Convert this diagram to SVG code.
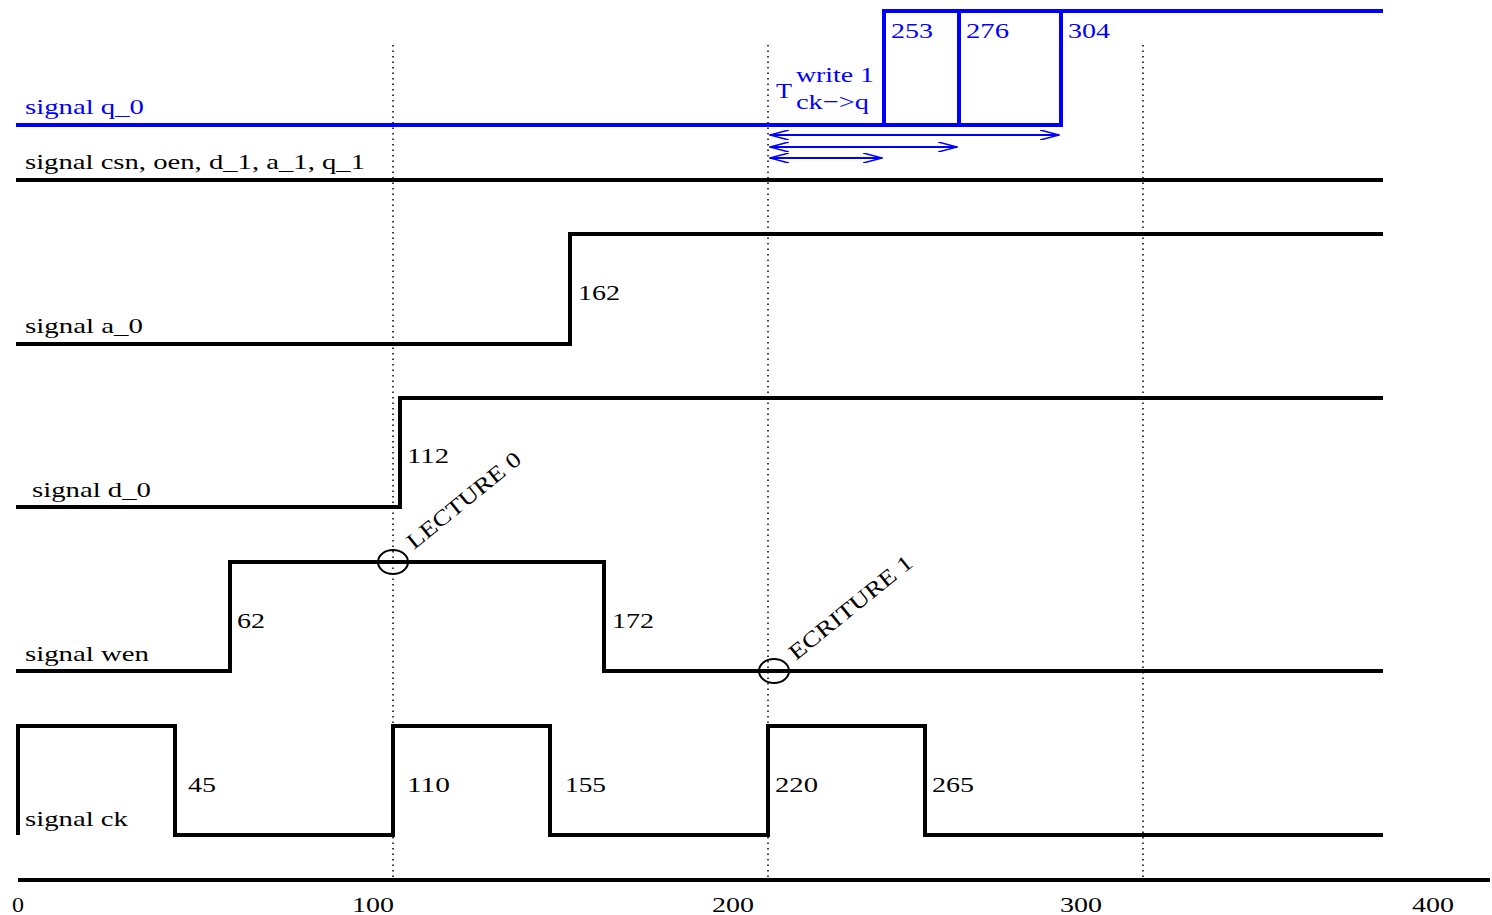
<svg xmlns="http://www.w3.org/2000/svg" width="1492" height="915" viewBox="0 0 1492 915">
<defs>
<style>
.sig{fill:none;stroke:#000;stroke-width:4;stroke-linejoin:miter;stroke-linecap:square}
.blue{stroke:#0000ff}
.dot{fill:none;stroke:#000;stroke-width:1.5;stroke-dasharray:1.5 4}
.t{font-family:"Liberation Serif","Times New Roman",serif;font-size:22px;fill:#000}
.tb{fill:#0000ff}
.arr{fill:none;stroke:#0000ff;stroke-width:1.8}
</style>
<marker id="ah" viewBox="0 0 20 10" refX="19" refY="5" markerWidth="20" markerHeight="10" markerUnits="userSpaceOnUse" orient="auto-start-reverse">
<path d="M0,0 L19,5 L0,10" fill="none" stroke="#0000ff" stroke-width="1.6"/>
</marker>
</defs>
<rect width="1492" height="915" fill="#fff"/>
<g id="grid">
<line class="dot" x1="393" y1="45" x2="393" y2="878"/>
<line class="dot" x1="768" y1="45" x2="768" y2="878"/>
<line class="dot" x1="1143" y1="45" x2="1143" y2="878"/>
</g>
<g id="axis">
<line x1="18" y1="880" x2="1490" y2="880" stroke="#000" stroke-width="4"/>
<text class="t" x="12" y="912" font-size="24" textLength="12" lengthAdjust="spacingAndGlyphs">0</text>
<text class="t" x="352" y="912" font-size="24" textLength="42" lengthAdjust="spacingAndGlyphs">100</text>
<text class="t" x="712" y="912" font-size="24" textLength="42" lengthAdjust="spacingAndGlyphs">200</text>
<text class="t" x="1060" y="912" font-size="24" textLength="42" lengthAdjust="spacingAndGlyphs">300</text>
<text class="t" x="1412" y="912" font-size="24" textLength="42" lengthAdjust="spacingAndGlyphs">400</text>
</g>
<g id="signal-q0">
<path class="sig blue" d="M18,125 H1061 V11 M884,125 V11 H1381 M959,11 V125"/>
<text class="t tb" x="25" y="114" textLength="119" lengthAdjust="spacingAndGlyphs">signal q_0</text>
<text class="t tb" x="891" y="38" textLength="42" lengthAdjust="spacingAndGlyphs">253</text>
<text class="t tb" x="966" y="38" textLength="43" lengthAdjust="spacingAndGlyphs">276</text>
<text class="t tb" x="1068" y="38" textLength="42" lengthAdjust="spacingAndGlyphs">304</text>
<text class="t tb" x="776" y="98" textLength="16" lengthAdjust="spacingAndGlyphs">T</text>
<text class="t tb" x="796" y="82" textLength="78" lengthAdjust="spacingAndGlyphs">write 1</text>
<text class="t tb" x="796" y="109" textLength="73" lengthAdjust="spacingAndGlyphs">ck−&gt;q</text>
</g>
<g id="connectors">
<line class="arr" x1="770" y1="135" x2="1059" y2="135" marker-start="url(#ah)" marker-end="url(#ah)"/>
<line class="arr" x1="770" y1="147" x2="957" y2="147" marker-start="url(#ah)" marker-end="url(#ah)"/>
<line class="arr" x1="770" y1="158" x2="882" y2="158" marker-start="url(#ah)" marker-end="url(#ah)"/>
</g>
<g id="signal-csn">
<path class="sig" d="M18,180 H1381"/>
<text class="t" x="25" y="169" textLength="340" lengthAdjust="spacingAndGlyphs">signal csn, oen, d_1, a_1, q_1</text>
</g>
<g id="signal-a0">
<path class="sig" d="M18,344 H570 V234 H1381"/>
<text class="t" x="25" y="333" textLength="118" lengthAdjust="spacingAndGlyphs">signal a_0</text>
<text class="t" x="578" y="300" textLength="42" lengthAdjust="spacingAndGlyphs">162</text>
</g>
<g id="signal-d0">
<path class="sig" d="M18,507 H400 V398 H1381"/>
<text class="t" x="32" y="497" textLength="119" lengthAdjust="spacingAndGlyphs">signal d_0</text>
<text class="t" x="407" y="463" textLength="42" lengthAdjust="spacingAndGlyphs">112</text>
</g>
<g id="signal-wen">
<path class="sig" d="M18,671 H230 V562 H604 V671 H1381"/>
<text class="t" x="25" y="661" textLength="124" lengthAdjust="spacingAndGlyphs">signal wen</text>
<text class="t" x="237" y="628" textLength="28" lengthAdjust="spacingAndGlyphs">62</text>
<text class="t" x="612" y="628" textLength="42" lengthAdjust="spacingAndGlyphs">172</text>
</g>
<g id="lecture0">
<ellipse cx="393" cy="562" rx="15" ry="12" fill="none" stroke="#000" stroke-width="2"/>
<text class="t" x="0" y="0" font-size="21" textLength="140" lengthAdjust="spacingAndGlyphs" transform="translate(414,550) rotate(-39)">LECTURE 0</text>
</g>
<g id="ecriture1">
<ellipse cx="774" cy="671" rx="15" ry="12" fill="none" stroke="#000" stroke-width="2"/>
<text class="t" x="0" y="0" font-size="21" textLength="152" lengthAdjust="spacingAndGlyphs" transform="translate(796,661) rotate(-39)">ECRITURE 1</text>
</g>
<g id="signal-ck">
<path class="sig" d="M18,833 V726 H175 V835 H393 V726 H550 V835 H768 V726 H925 V835 H1381"/>
<text class="t" x="25" y="826" textLength="103" lengthAdjust="spacingAndGlyphs">signal ck</text>
<text class="t" x="188" y="792" textLength="28" lengthAdjust="spacingAndGlyphs">45</text>
<text class="t" x="407" y="792" textLength="43" lengthAdjust="spacingAndGlyphs">110</text>
<text class="t" x="565" y="792" textLength="41" lengthAdjust="spacingAndGlyphs">155</text>
<text class="t" x="775" y="792" textLength="43" lengthAdjust="spacingAndGlyphs">220</text>
<text class="t" x="932" y="792" textLength="42" lengthAdjust="spacingAndGlyphs">265</text>
</g>
</svg>
